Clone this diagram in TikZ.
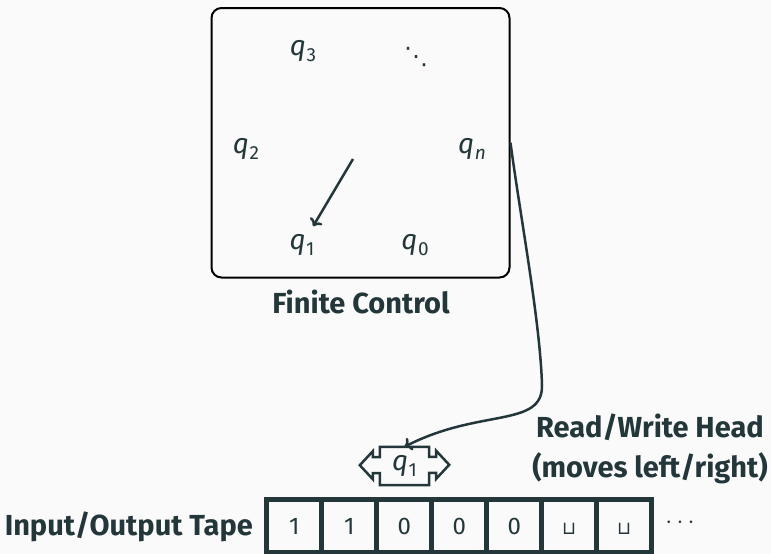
\documentclass[tikz,border=0pt]{standalone}
\usepackage{fontspec}
\setmainfont{Fira Sans}
\newfontfamily\symfont{DejaVu Sans}
\usetikzlibrary{arrows.meta,calc}
\definecolor{mdark}{HTML}{23373B}
\definecolor{mbg}{HTML}{FAFAFA}
\newcommand{\qsub}[1]{{\itshape q}\kern0.5pt\raisebox{-5.5pt}{\fontsize{19}{19}\selectfont #1}}
\begin{document}
\begin{tikzpicture}[x=1pt,y=-1pt,
  lbl/.style={text=mdark,font=\fontsize{29}{40}\selectfont\bfseries,inner sep=0pt},
  state/.style={text=mdark,font=\fontsize{28}{32}\selectfont,inner sep=2pt},
  conn/.style={draw=mdark,line width=2.5pt,-{To[length=7pt,width=14pt]}},
  cell/.style={draw=mdark,line width=4.5pt,minimum width=55pt,minimum height=52.5pt,inner sep=0pt,outer sep=0pt,text height=17pt,text depth=0pt,text=mdark,font=\fontsize{24}{28}\selectfont},
  ctrlbox/.style={draw=black,line width=2pt,rounded corners=10pt,minimum width=298pt,minimum height=269.5pt,inner sep=0pt},
  headshape/.style={draw=mdark,line width=2.5pt}]
\fill[mbg] (0,0) rectangle (771,554);
\useasboundingbox (0,0) rectangle (771,554);
% finite control
\node[ctrlbox] (box) at (360.5,142.75) {};
\node[state] (q0) at (415,245) {\qsub{0}};
\node[state] (q1) at (302,245) {\qsub{1}};
\node[state] (q2) at (246,149) {\qsub{2}};
\node[state] (q3) at (303,51) {\qsub{3}};
\node[state,font=\symfont\fontsize{24}{24}\selectfont] (qd) at (416,57) {⋱};
\node[state] (qn) at (472,149) {\qsub{\itshape n}};
\coordinate (ctr) at (353,159);
\draw[conn,shorten >=7pt] (ctr) -- (q1);
\node[lbl,anchor=base] (fc) at (361,313) {Finite Control};
% tape
\node[cell] (c0) at (294.2,525.8) {1};
\node[cell] (c1) at (349.2,525.8) {1};
\node[cell] (c2) at (404.2,525.8) {0};
\node[cell] (c3) at (459.2,525.8) {0};
\node[cell] (c4) at (514.2,525.8) {0};
\node[cell] (c5) at (569.2,525.8) {\symfont\fontsize{18}{18}\selectfont ⊔};
\node[cell] (c6) at (624.2,525.8) {\symfont\fontsize{18}{18}\selectfont ⊔};
\node[text=mdark,font=\fontsize{24}{28}\selectfont] (dots) at (680,523) {$\cdots$};
\node[lbl,anchor=base east] (tl) at (253,535) {Input/Output Tape};
% head
\node[state,minimum width=49pt,minimum height=38pt,inner sep=0pt] (head) at (404.5,466) {\qsub{1}};
\draw[headshape] (head.north west) -- (head.north east) -- ++(0,10) -- ++(7,0) -- ++(0,-6) -- ++(13,14) -- ++(-13,14) -- ++(0,-6) -- ++(-7,0) -- (head.south east) -- (head.south west) -- ++(0,-12) -- ++(-7,0) -- ++(0,6) -- ++(-13,-14) -- ++(13,-14) -- ++(0,6) -- ++(7,0) -- cycle;
\draw[conn] (box.east) .. controls (520,215) and (540,320) .. (542,385) .. controls (543,428) and (480,408) .. (head.north);
\node[lbl,align=center] (rw) at (650,449) {Read/Write Head\\(moves left/right)};
\end{tikzpicture}
\end{document}
